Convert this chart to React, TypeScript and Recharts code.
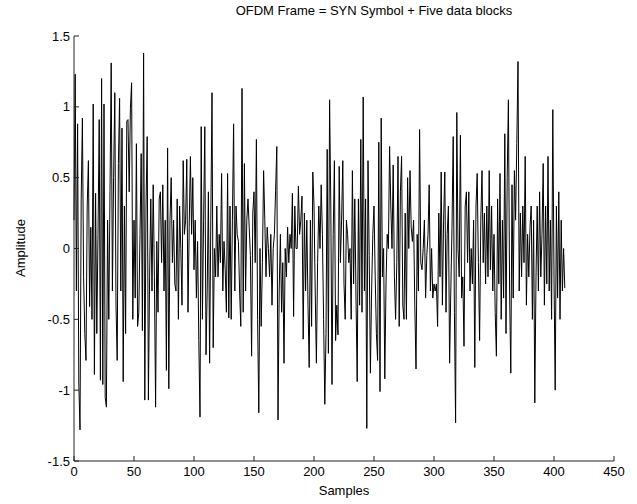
import { LineChart, Line, XAxis, YAxis } from "recharts";

// Amplitude of each sample (samples 0..409)
const amplitude = [
  0.2, 1.23, -0.3, 0.88, -0.95, -1.28, 0.35, 0.92, -0.2, -0.6,
  -0.79, 0.3, 0.62, -0.41, 0.15, -0.5, 1.02, -0.89, 0.39, -0.6,
  0.1, 0.91, -0.93, 1.2, -0.96, 1.02, -1.05, -1.12, 0.2, -0.5,
  0.4, 1.31, -0.3, 0.5, 1.1, -0.4, -0.79, 0.6, 1.06, -0.3,
  0.85, -0.94, 0.3, -0.6, 0.9, 0.91, 0.4, 0.99, 1.17, -0.5,
  0.2, -0.35, 0.74, -0.55, -0.45, 0.1, 0.67, -0.58, 1.38, -1.07,
  0.3, 0.79, -1.07, -0.2, 0.35, -0.3, 0.45, -0.2, -1.12, 0.05,
  -0.45, 0.35, 0.4, -0.1, 0.45, -0.3, 0.2, -0.86, 0.71, -0.99,
  0.2, 0.5, -0.1, 0.2, -0.25, -0.3, 0.35, -0.5, 0.3, 0.0,
  -0.4, 0.62, 0.1, 0.2, 0.63, -0.45, 0.15, 0.65, 0.1, 0.5,
  -0.15, 0.2, -0.35, 0.05, -0.65, -1.19, 0.86, -0.5, 0.2, 0.86,
  -0.75, -0.3, 0.4, -0.81, 0.2, 1.1, -0.7, 0.0, -0.2, 0.3,
  -0.2, 0.1, -0.1, 0.53, -0.3, 0.05, -0.15, -0.45, 0.53, -0.49,
  0.3, -0.5, 0.2, 0.88, -0.3, 0.3, 0.1, 0.05, -0.3, -0.55,
  1.13, -0.45, 0.6, -0.3, 0.2, 0.35, 0.15, -0.05, -0.76, 0.25,
  0.4, -0.1, 0.77, -0.5, -1.16, 0.0, -0.55, -0.1, 0.55, 0.2,
  -0.2, 0.15, 0.0, -0.2, 0.1, -0.4, 0.0, 0.1, 0.41, 0.72,
  -1.21, -0.3, 0.1, -0.45, -0.1, -0.81, 0.0, -0.2, 0.15, -0.1,
  0.1, 0.0, 0.39, -0.48, 0.3, 0.0, 0.0, 0.44, 0.1, 0.2,
  0.37, -0.64, 0.25, -0.3, 0.2, -0.4, -0.84, 0.2, -0.55, 0.54,
  0.3, -0.3, -0.81, -0.1, 0.3, 0.0, 0.45, 0.1, -0.5, -1.1,
  -0.6, 0.7, -0.74, 1.05, 0.3, -0.96, 0.1, 0.62, -0.65, -0.4,
  -0.61, 0.58, -0.1, 0.2, 0.62, -0.25, -0.5, 0.2, 0.1, -0.1,
  0.0, -0.5, 0.55, -0.25, 0.35, -0.35, -0.94, 0.35, -0.4, 0.77,
  -0.45, 1.07, -0.3, 0.35, -1.27, 0.62, -0.05, -0.88, -0.3, 0.1,
  0.3, -0.2, -0.6, -0.79, 0.75, -1.01, 0.92, -0.2, 0.0, -0.92,
  -0.25, 0.1, 0.0, 0.72, 0.3, 0.0, 0.59, -0.2, -0.5, -0.1,
  0.65, -0.55, 0.4, 0.65, -0.4, -0.5, 0.25, -0.5, 0.5, 0.0,
  0.55, 0.15, 0.05, 0.2, -0.4, -0.85, 0.1, -0.3, 0.84, -0.1,
  -0.15, 0.0, 0.2, -0.35, -0.05, 0.1, 0.45, -0.3, 0.0, -0.35,
  -0.25, -0.3, -0.25, -0.55, 0.25, -0.2, 0.54, -0.4, 0.2, 0.54,
  -0.45, 0.1, 0.3, -0.81, -0.3, 0.15, 0.79, -0.45, -1.23, 0.96,
  0.0, -0.2, 0.8, -0.35, -0.2, -0.69, 0.3, 0.4, -0.1, 0.4,
  -0.3, 0.0, -0.25, 0.2, -0.84, 0.3, 0.53, -0.1, -0.65, 0.2,
  0.55, -0.1, 0.25, -0.25, 0.3, -0.2, 0.55, -0.15, 0.3, -0.3,
  0.1, -0.45, -0.76, 0.35, -0.25, 0.53, -0.5, 0.2, -0.35, 0.81,
  -0.6, 0.5, 1.05, -0.3, -0.88, 0.45, -0.35, 0.55, 0.2, 0.74,
  1.32, -0.3, 0.25, -0.2, 0.3, -0.1, 0.65, -0.4, 0.1, -0.2,
  0.15, 0.3, -0.5, 0.2, -1.09, -0.2, 0.3, -0.3, 0.4, -0.2,
  0.1, 0.6, -0.4, 0.3, -0.25, 0.65, -0.3, 0.2, -0.5, 0.98,
  -0.2, -1.0, 0.3, -0.35, 0.4, -0.5, 0.2, -0.3, 0.0, -0.28,
];

const xTicks = [0, 50, 100, 150, 200, 250, 300, 350, 400, 450];
const yTicks = [-1.5, -1, -0.5, 0, 0.5, 1, 1.5];

const title = "OFDM Frame = SYN Symbol + Five data blocks";
const xLabel = "Samples";
const yLabel = "Amplitude";

const rows = amplitude.map((v, i) => ({ sample: i, amplitude: v }));

const font = '"Liberation Sans", Arial, sans-serif';
const frame = "#222";

export default function App() {
  return (
    <div
      style={{
        position: "fixed",
        left: 0,
        top: 0,
        width: 637,
        height: 504,
        background: "#fff",
        fontFamily: font,
      }}
    >
      <LineChart
        width={637}
        height={504}
        data={rows}
        margin={{ top: 36, right: 23, bottom: 23, left: 34 }}
      >
        <XAxis
          xAxisId="bottom"
          dataKey="sample"
          type="number"
          domain={[0, 450]}
          ticks={xTicks}
          interval={0}
          height={20}
          tickSize={-5}
          tickMargin={11}
          stroke={frame}
          tick={{ fill: "#000", fontSize: 13, fontFamily: font }}
        />
        <XAxis
          xAxisId="top"
          orientation="top"
          dataKey="sample"
          type="number"
          domain={[0, 450]}
          ticks={xTicks}
          interval={0}
          height={0}
          tickSize={-5}
          stroke={frame}
          tick={false}
        />
        <YAxis
          yAxisId="left"
          type="number"
          domain={[-1.5, 1.5]}
          ticks={yTicks}
          interval={0}
          width={40}
          tickSize={-5}
          tickMargin={9}
          stroke={frame}
          tick={{ fill: "#000", fontSize: 13, fontFamily: font }}
        />
        <YAxis
          yAxisId="right"
          orientation="right"
          type="number"
          domain={[-1.5, 1.5]}
          ticks={yTicks}
          interval={0}
          width={0}
          tickSize={-5}
          stroke={frame}
          tick={false}
        />
        <Line
          xAxisId="bottom"
          yAxisId="left"
          type="linear"
          dataKey="amplitude"
          stroke="#000"
          strokeWidth={1}
          dot={false}
          isAnimationActive={false}
        />
      </LineChart>
      <div
        style={{
          position: "absolute",
          left: 374,
          top: 3,
          transform: "translateX(-50%)",
          whiteSpace: "nowrap",
          fontSize: 13,
        }}
      >
        {title}
      </div>
      <div
        style={{
          position: "absolute",
          left: 344,
          top: 483,
          transform: "translateX(-50%)",
          fontSize: 13,
        }}
      >
        {xLabel}
      </div>
      <div
        style={{
          position: "absolute",
          left: 20,
          top: 248,
          transform: "translate(-50%, -50%) rotate(-90deg)",
          fontSize: 13,
          whiteSpace: "nowrap",
        }}
      >
        {yLabel}
      </div>
    </div>
  );
}
